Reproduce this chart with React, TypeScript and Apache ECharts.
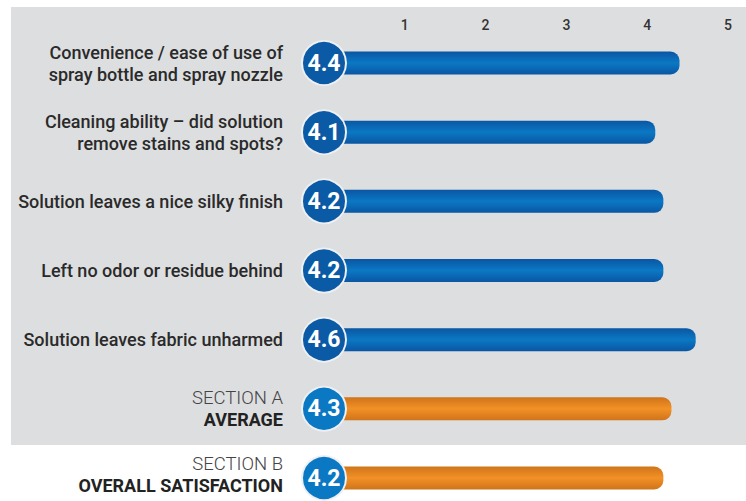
import React, { useEffect, useRef } from "react";
import * as echarts from "echarts";

const categories = [
  "Convenience / ease of use of\nspray bottle and spray nozzle",
  "Cleaning ability – did solution\nremove stains and spots?",
  "Solution leaves a nice silky finish",
  "Left no odor or residue behind",
  "Solution leaves fabric unharmed",
  "SECTION A|AVERAGE",
  "SECTION B|OVERALL SATISFACTION",
];
const scores = [4.4, 4.1, 4.2, 4.2, 4.6, 4.3, 4.2];
const isSummary = [false, false, false, false, false, true, true];
const tickValues = [1, 2, 3, 4, 5];

const blueGrad = () =>
  new echarts.graphic.LinearGradient(0, 0, 0, 1, [
    { offset: 0, color: "#0a56a3" },
    { offset: 0.5, color: "#0b78c4" },
    { offset: 1, color: "#0a56a3" },
  ]);
const orangeGrad = () =>
  new echarts.graphic.LinearGradient(0, 0, 0, 1, [
    { offset: 0, color: "#d0741a" },
    { offset: 0.5, color: "#f29126" },
    { offset: 1, color: "#d0741a" },
  ]);

export default function App() {
  const ref = useRef<HTMLDivElement>(null);
  useEffect(() => {
    if (!ref.current) return;
    const chart = echarts.init(ref.current, null, { renderer: "svg" });
    const font = "Roboto";
    const last = categories.length - 1;
    chart.setOption({
      animation: false,
      backgroundColor: "#ffffff",
      graphic: [
        {
          type: "rect",
          shape: { x: 11, y: 7, width: 735, height: 438 },
          style: { fill: "#dddee0" },
          z: -10,
          silent: true,
        },
      ],
      grid: { left: 324, width: 404, top: 63, height: 419, containLabel: false },
      xAxis: {
        type: "value",
        position: "top",
        min: 0,
        max: 5,
        interval: 1,
        axisLine: { show: false },
        axisTick: { show: false },
        splitLine: { show: false },
        axisLabel: {
          margin: 31,
          fontFamily: font,
          fontSize: 14,
          fontWeight: 500,
          color: "#333333",
          formatter: (v: number) => (tickValues.includes(v) ? String(v) : ""),
        },
      },
      yAxis: {
        type: "category",
        inverse: true,
        boundaryGap: false,
        data: categories,
        axisLine: { show: false },
        axisTick: { show: false },
        splitLine: { show: false },
        axisLabel: {
          margin: 41,
          align: "right",
          interval: 0,
          fontFamily: font,
          formatter: (v: string, idx: number) => {
            if (v.includes("|")) {
              const [a, b] = v.split("|");
              return idx === last
                ? `{l2|${a}}\n{b2|${b}}\n{s| }`
                : `{l|${a}}\n{b|${b}}`;
            }
            return v
              .split("\n")
              .map((s) => `{n|${s}}`)
              .join("\n");
          },
          rich: {
            n: {
              fontFamily: font,
              fontSize: 18,
              fontWeight: 500,
              color: "#2a2a2a",
              lineHeight: 22,
              align: "right",
            },
            l: {
              fontFamily: font,
              fontSize: 18.5,
              fontWeight: 300,
              color: "#444444",
              lineHeight: 22,
              align: "right",
            },
            b: {
              fontFamily: font,
              fontSize: 18,
              fontWeight: 700,
              color: "#222222",
              lineHeight: 22,
              align: "right",
            },
            l2: {
              fontFamily: font,
              fontSize: 18.5,
              fontWeight: 300,
              color: "#444444",
              lineHeight: 22,
              align: "right",
            },
            b2: {
              fontFamily: font,
              fontSize: 18,
              fontWeight: 700,
              color: "#222222",
              lineHeight: 20,
              align: "right",
            },
            s: {
              fontSize: 4,
              lineHeight: 8,
            },
          },
        },
      },
      series: [
        {
          type: "bar",
          barWidth: 23,
          data: scores.map((v, i) => ({
            value: v,
            itemStyle: {
              color: isSummary[i] ? orangeGrad() : blueGrad(),
              borderRadius: [0, 9, 9, 0],
            },
          })),
          z: 2,
        },
        {
          type: "scatter",
          symbol: "circle",
          symbolSize: 44,
          z: 5,
          data: scores.map((v, i) => ({
            value: [0, i],
            score: v,
            itemStyle: {
              color: isSummary[i] ? "#0b78c4" : "#0a5aa6",
              borderColor: "#eef0f3",
              borderWidth: 2,
              opacity: 1,
            },
          })),
          label: {
            show: true,
            position: "inside",
            fontFamily: "Roboto",
            fontSize: 23,
            fontWeight: 700,
            color: "#ffffff",
            formatter: (p: any) => p.data.score.toFixed(1),
          },
        },
      ],
    });
    return () => chart.dispose();
  }, []);
  return (
    <div
      ref={ref}
      style={{ position: "absolute", left: 0, top: 0, width: 746, height: 501 }}
    />
  );
}
